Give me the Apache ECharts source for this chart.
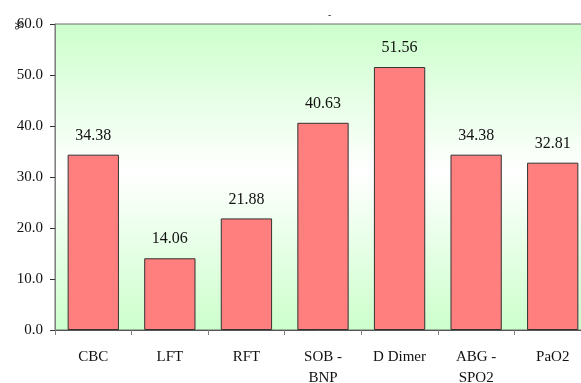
<!DOCTYPE html>
<html>
<head>
<meta charset="utf-8">
<script src="https://cdn.jsdelivr.net/npm/echarts@6/dist/echarts.min.js"></script>
<style>
html,body{margin:0;padding:0;background:#fff;}
#chart{width:581px;height:383px;}
</style>
</head>
<body>
<div id="chart"></div>
<script>
var categories = ["CBC", "LFT", "RFT", "SOB -\nBNP", "D Dimer", "ABG -\nSPO2", "PaO2"];
var values = [34.38, 14.06, 21.88, 40.63, 51.56, 34.38, 32.81];
var yTicks = [0, 10, 20, 30, 40, 50, 60];
var titleText = "-";
var yName = "%";

var serif = "'Liberation Serif', 'Times New Roman', serif";
var chart = echarts.init(document.getElementById('chart'), null, {renderer: 'canvas'});
chart.setOption({
  animation: false,
  backgroundColor: '#ffffff',
  title: {
    text: titleText,
    left: 323,
    top: 6,
    textStyle: {fontFamily: 'DejaVu Sans', fontSize: 9, fontWeight: 'normal', color: '#000'}
  },
  graphic: [{
    type: 'text',
    x: 15,
    y: 30,
    rotation: Math.PI / 2,
    style: {text: yName, font: '10px DejaVu Sans', fill: '#000'}
  }],
  grid: {
    left: 55, top: 24, width: 536, height: 306,
    outerBoundsMode: 'none',
    containLabel: false,
    show: true,
    borderColor: '#6b6b6b',
    borderWidth: 1,
    backgroundColor: new echarts.graphic.LinearGradient(0, 0, 0, 1, [
      {offset: 0, color: '#CCFFCC'},
      {offset: 0.48, color: '#FFFFFF'},
      {offset: 1, color: '#CCFFCC'}
    ])
  },
  xAxis: {
    type: 'category',
    data: categories,
    axisLine: {lineStyle: {color: '#555', width: 1}},
    axisTick: {show: true, length: 5, alignWithLabel: false, lineStyle: {color: '#808080'}},
    axisLabel: {
      margin: 17,
      fontFamily: serif, fontSize: 15, color: '#111', lineHeight: 21,
      interval: 0
    }
  },
  yAxis: {
    type: 'value',
    min: yTicks[0],
    max: yTicks[yTicks.length - 1],
    interval: 10,
    splitLine: {show: false},
    axisLine: {show: true, lineStyle: {color: '#808080', width: 1}},
    axisTick: {show: true, length: 5, lineStyle: {color: '#333'}},
    axisLabel: {
      margin: 12,
      fontFamily: serif, fontSize: 15, color: '#111',
      formatter: function (v) { return v.toFixed(1); }
    }
  },
  series: [{
    type: 'bar',
    data: values,
    barCategoryGap: '33%',
    itemStyle: {color: '#FF7F7F', borderColor: '#333', borderWidth: 1},
    label: {
      show: true,
      position: 'top',
      distance: 11,
      fontFamily: serif, fontSize: 16, color: '#111',
      formatter: function (p) { return p.value.toFixed(2); }
    }
  }]
});
</script>
</body>
</html>
